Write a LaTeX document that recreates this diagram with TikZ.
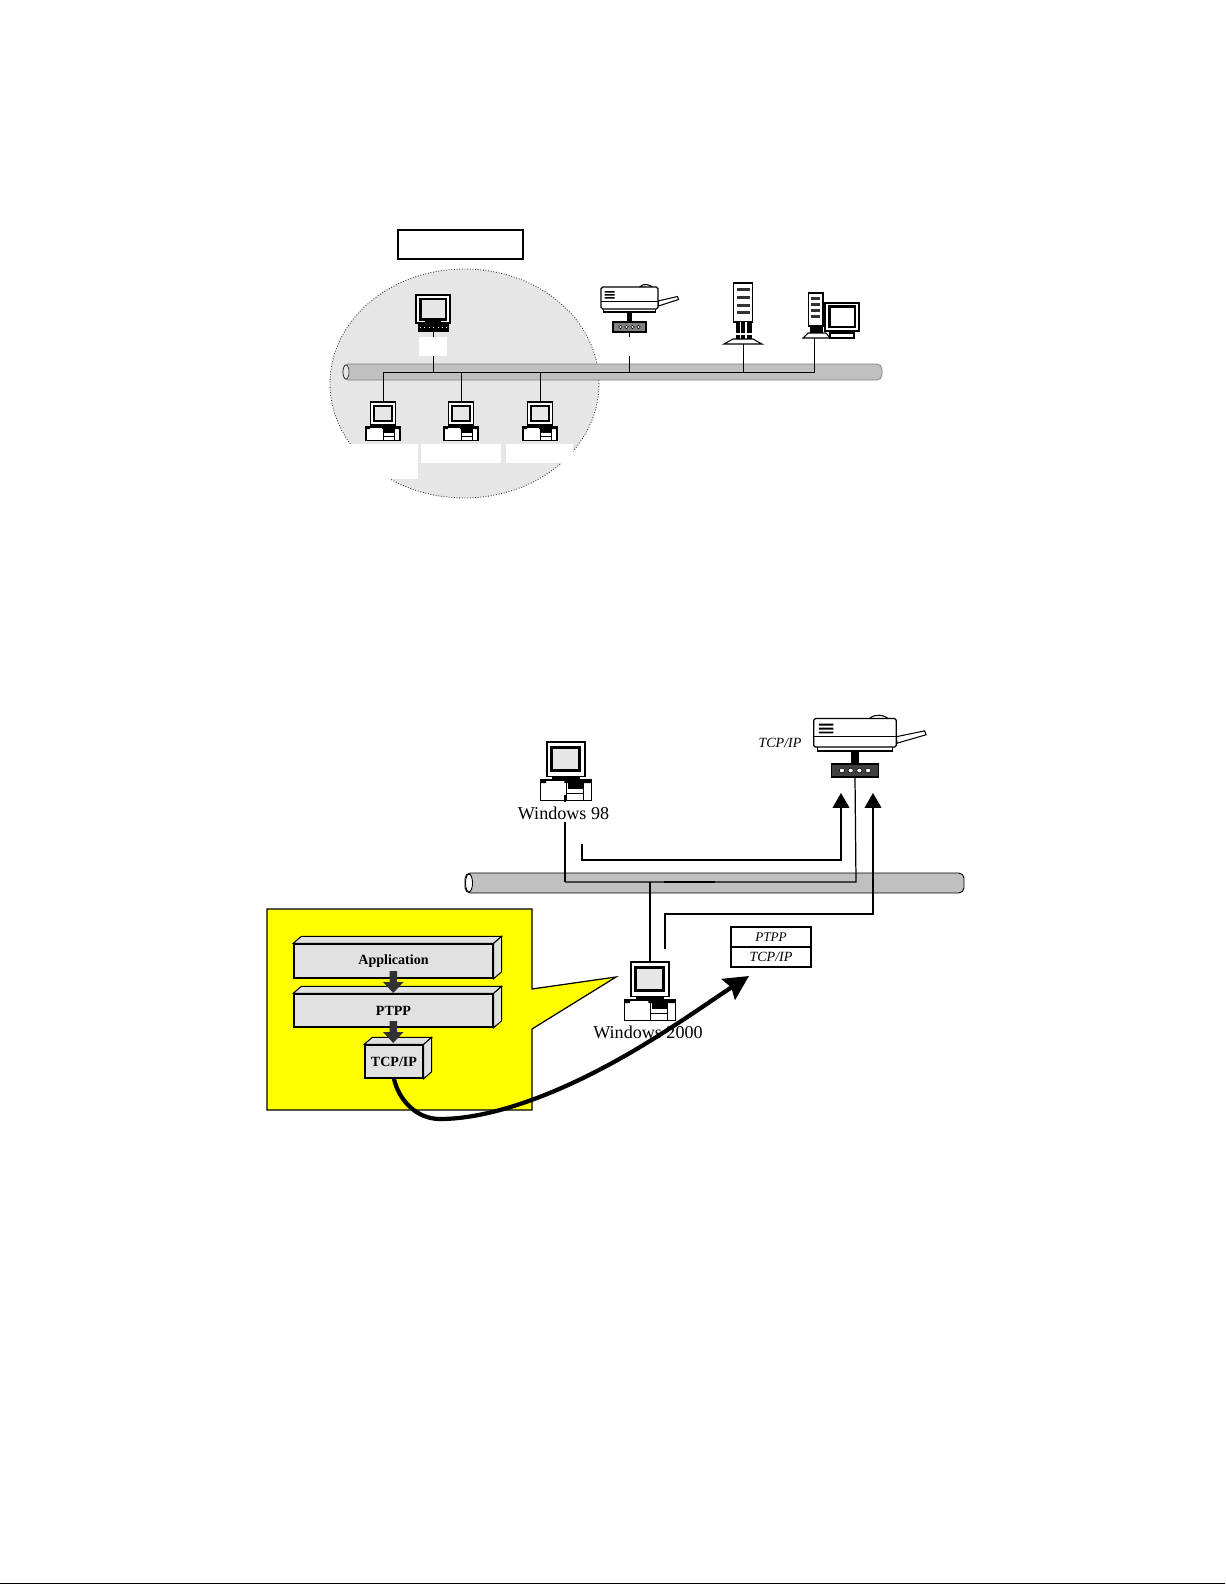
\documentclass[tikz,border=0pt]{standalone}
\usepackage{fontspec}
\setmainfont{Liberation Serif}
\usetikzlibrary{arrows.meta,calc}
\definecolor{cloudgray}{RGB}{230,230,230}
\definecolor{busgray}{RGB}{192,192,192}
\definecolor{boxgray}{RGB}{225,225,225}
\definecolor{slate}{RGB}{50,50,50}
\definecolor{calloutyellow}{RGB}{255,255,0}
\tikzset{
  wire/.style={black,line width=0.55pt},
  heavywire/.style={black,line width=1.3pt},
  patch/.style={fill=white,draw=none},
  busbar/.style={fill=busgray,rounded corners=3pt},
  layerbox/.style={draw=black,line width=0.8pt,fill=boxgray,font=\fontsize{8}{9}\selectfont\bfseries,inner sep=0pt},
  pics/deskpc/.style={code={
    \filldraw[fill=white,draw=black,line width=0.6pt] (-12.5,0) rectangle (12.5,23);
    \fill[black] (-10.5,2.5) rectangle (10,19.5);
    \fill[cloudgray] (-8.5,4.5) rectangle (8,17.5);
    \fill[black] (-9,23) rectangle (9,25);
    \filldraw[fill=white,draw=black,line width=0.6pt] (-17,25) rectangle (17,38.5);
    \fill[black] (-17,25) rectangle (-13,27) (-1,25) rectangle (17,27);
    \fill[black] (1,27) rectangle (11,31);
    \draw[black,line width=0.5pt] (0.5,27) -- (0.5,38.5) (11.5,27) -- (11.5,38.5) (0.5,34) -- (11.5,34);
  }},
  pics/termpc/.style={code={
    \filldraw[fill=white,draw=black,line width=0.7pt] (-17,-37) rectangle (17,-9);
    \fill[black] (-14,-34.5) rectangle (14,-11.5);
    \fill[cloudgray] (-11.5,-32) rectangle (11.5,-14);
    \fill[black] (-15,-9) rectangle (16,0);
    \fill[black] (-8,-11) rectangle (8,-9);
    \draw[white,line width=0.5pt,dotted] (-13,-4.5) -- (14,-4.5);
  }},
  pics/printer/.style={code={
    \filldraw[fill=white,draw=black,line width=0.6pt] (28.5,-31) -- (48,-35.5) -- (49,-32.5) -- (29,-26) -- cycle;
    \filldraw[fill=white,draw=black,line width=0.6pt] (10,-45) .. controls (14,-49) and (20,-48) .. (24,-44) -- cycle;
    \filldraw[fill=white,draw=black,line width=0.6pt] (-26,-24) rectangle (26,-20);
    \filldraw[fill=white,draw=black,line width=0.7pt,rounded corners=1pt] (-28.5,-45) rectangle (28.5,-23);
    \draw[black,line width=0.4pt] (-28.5,-31) -- (28.5,-31);
    \fill[black] (-25,-41) rectangle (-15,-39.5) (-25,-38) rectangle (-15,-36.5) (-25,-35) rectangle (-15,-33.5);
    \fill[black] (-2.5,-20) rectangle (2.5,-10);
    \filldraw[fill=#1,draw=black,line width=0.6pt] (-16.5,-10) rectangle (16.5,0);
    \foreach \dotx in {-9,-3,3,9}{
      \filldraw[fill=white,draw=black,line width=0.3pt] (\dotx,-5) circle (1.8);}
  }},
  pics/tower/.style={code={
    \filldraw[fill=white,draw=black,line width=0.7pt] (-9.5,-61) rectangle (9.5,-22);
    \foreach \bary in {-56,-48,-40,-33}{
      \fill[slate] (-6.5,\bary) rectangle (6.5,\bary+3);}
    \fill[black] (-7.5,-22) rectangle (8.5,-5);
    \draw[white,line width=0.6pt] (-2.5,-22) -- (-2.5,-5) (3,-22) -- (3,-5) (-7.5,-10) -- (8.5,-10);
    \filldraw[fill=white,draw=black,line width=0.6pt] (-19,0) -- (-10,-5) -- (10,-5) -- (19,0) -- cycle;
  }},
  pics/workstation/.style={code={
    \filldraw[fill=white,draw=black,line width=0.7pt] (-5.5,-45) rectangle (9,-12);
    \foreach \bary in {-41,-35,-29,-23}{
      \fill[slate] (-3,\bary) rectangle (6,\bary+2.5);}
    \fill[black] (-4.5,-12) rectangle (9,-5);
    \filldraw[fill=white,draw=black,line width=0.6pt] (-11,0) -- (-6,-5) -- (12,-5) -- (16,0) -- cycle;
    \filldraw[fill=white,draw=black,line width=0.6pt] (16,-5) rectangle (40,0);
    \filldraw[fill=white,draw=black,line width=0.7pt] (11,-35) rectangle (45,-7);
    \fill[black] (14,-33) rectangle (42,-10);
    \fill[white] (16.5,-30.5) rectangle (39.5,-12.5);
    \fill[black] (22,-7) rectangle (34,-5);
  }},
}
\newcommand{\boxdepth}[1]{
  \filldraw[fill=boxgray,draw=black,line width=0.6pt] (#1.north west) -- ++(8,-7) -- ($(#1.north east)+(8,-7)$) -- (#1.north east) -- cycle;
  \filldraw[fill=boxgray,draw=black,line width=0.6pt] (#1.north east) -- ++(8,-7) -- ($(#1.south east)+(8,-7)$) -- (#1.south east) -- cycle;
}
\begin{document}
\begin{tikzpicture}[x=0.02cm,y=-0.02cm]
  \useasboundingbox (0,0) rectangle (1225,1585);
  \draw[black,line width=1.1pt] (0,1583.5) -- (1225,1583.5);

  \node[draw=black,line width=0.7pt,minimum width=2.5cm,minimum height=0.58cm,inner sep=0pt] (title) at (460.5,244.5) {};
  \draw[fill=cloudgray,draw=slate,densely dotted,line width=0.5pt] (464.5,383.5) ellipse [x radius=134.5,y radius=114.5];
  \fill[patch] (320,444) rectangle (418,479);
  \fill[patch] (421,444) rectangle (501,463);
  \fill[patch] (506,444) rectangle (573,463);
  \fill[patch] (419,337) rectangle (447,356);
  \filldraw[busbar,draw=gray] (343,364) rectangle (882,380);
  \filldraw[fill=cloudgray,draw=slate,line width=0.4pt] (346,372) ellipse [x radius=3,y radius=7];

  \foreach \name/\x in {pcA/383,pcB/461,pcC/540}{
    \coordinate (\name) at (\x,402);
    \coordinate (\name tap) at (\x,372.5);
    \pic at (\name) {deskpc};
    \draw[wire] (\name tap) -- (\name);}
  \coordinate (term) at (433,332);
  \coordinate (termtap) at (433,372.5);
  \coordinate (prn) at (629.5,332);
  \coordinate (prntap) at (629.5,372.5);
  \coordinate (srv) at (743,344);
  \coordinate (srvtap) at (743,372.5);
  \coordinate (wks) at (814,338);
  \coordinate (wkstap) at (814,372.5);
  \pic at (term) {termpc};
  \pic at (prn) {printer={gray}};
  \pic at (srv) {tower};
  \pic at (wks) {workstation};
  \draw[wire] (pcAtap) -- (wkstap);
  \draw[wire] (termtap) -- ($(term)+(0,24)$);
  \draw[wire] ($(term)+(0,5)$) -- (term);
  \draw[wire] (prntap) -- ($(prn)+(0,24)$);
  \draw[wire] ($(prn)+(0,5)$) -- (prn);
  \draw[wire] (srvtap) -- (srv);
  \draw[wire] (wkstap) -- (wks);

  \filldraw[busbar,draw=black,line width=0.5pt] (465,873) rectangle (964,893);
  \filldraw[fill=white,draw=black,line width=0.5pt] (469,883) ellipse [x radius=3.5,y radius=9];
  \coordinate (oldpc) at (566,742);
  \coordinate (newpc) at (650,962);
  \coordinate (bigprn) at (855,777);
  \pic[scale=1.52] at (oldpc) {deskpc};
  \pic[scale=1.52] at (newpc) {deskpc};
  \pic[xscale=1.45,yscale=1.3] at (bigprn) {printer={black!75}};
  \node[font=\fontsize{10.3}{12}\selectfont] (oldlabel) at (563.5,813) {Windows 98};
  \node[font=\fontsize{10.3}{12}\selectfont] (newlabel) at (648,1032) {Windows 2000};
  \node[font=\fontsize{8}{9}\selectfont\itshape] (prnlabel) at (780,742.5) {TCP/IP};

  \coordinate (oldfoot) at (565,795);
  \coordinate (oldmid) at (565,802);
  \coordinate (oldback) at (565,822);
  \coordinate (oldbus) at (565,882);
  \coordinate (prnbus) at (856,882);
  \coordinate (newbus) at (650,882);
  \draw[heavywire] (oldfoot) -- (oldmid);
  \draw[heavywire] (oldback) -- (oldbus);
  \draw[wire,line width=0.7pt] (oldbus) -- (prnbus) -- (bigprn.center);
  \draw[black,line width=1.4pt] (664,882) -- (715,882);
  \draw[wire,line width=0.7pt] (newbus) -- (newpc);
  \coordinate (sendA) at (582,844);
  \coordinate (hopA) at (841,860);
  \coordinate (tipA) at (841,793);
  \coordinate (sendB) at (665,949);
  \coordinate (hopB) at (873,914);
  \coordinate (tipB) at (873,793);
  \draw[wire,line width=0.7pt,-{Triangle[length=8.5pt,width=9.6pt]}] (sendA) |- (hopA) -- (tipA);
  \draw[wire,line width=0.7pt,-{Triangle[length=8.5pt,width=9.6pt]}] (sendB) |- (hopB) -- (tipB);

  \node[draw=black,line width=0.6pt,minimum width=1.6cm,minimum height=0.4cm,inner sep=0pt,font=\fontsize{7.5}{8}\selectfont\itshape] (ptpphead) at (771,937) {PTPP};
  \node[draw=black,line width=0.6pt,minimum width=1.6cm,minimum height=0.4cm,inner sep=0pt,font=\fontsize{8}{9}\selectfont\itshape] (tcphead) at (771,957) {TCP/IP};

  \filldraw[fill=calloutyellow,draw=black,line width=0.7pt] (267,909) -- (532,909) -- (532,989) -- (616,977) -- (532,1029) -- (532,1110) -- (267,1110) -- cycle;
  \node[layerbox,minimum width=3.98cm,minimum height=0.68cm] (appbox) at (393.5,961) {Application};
  \node[layerbox,minimum width=3.98cm,minimum height=0.66cm] (ptppbox) at (393.5,1010.5) {PTPP};
  \node[layerbox,minimum width=1.16cm,minimum height=0.66cm] (tcpbox) at (394,1061.5) {TCP/IP};
  \boxdepth{appbox}
  \boxdepth{ptppbox}
  \boxdepth{tcpbox}
  \foreach \arrowy in {971,1021}{
    \fill[slate] (389.5,\arrowy) -- (397,\arrowy) -- (397,\arrowy+11) -- (403.5,\arrowy+11) -- (393.2,\arrowy+22) -- (383,\arrowy+11) -- (389.5,\arrowy+11) -- cycle;}

  \coordinate (sendtip) at (749,976);
  \draw[black,line width=2.4pt,-{Stealth[length=14pt,width=14pt,inset=2pt]}] (tcpbox.south) .. controls (398,1098) and (415,1119) .. (440,1119) .. controls (490,1119) and (560,1095) .. (640,1047) .. controls (680,1023) and (715,998) .. (sendtip);
\end{tikzpicture}
\end{document}
